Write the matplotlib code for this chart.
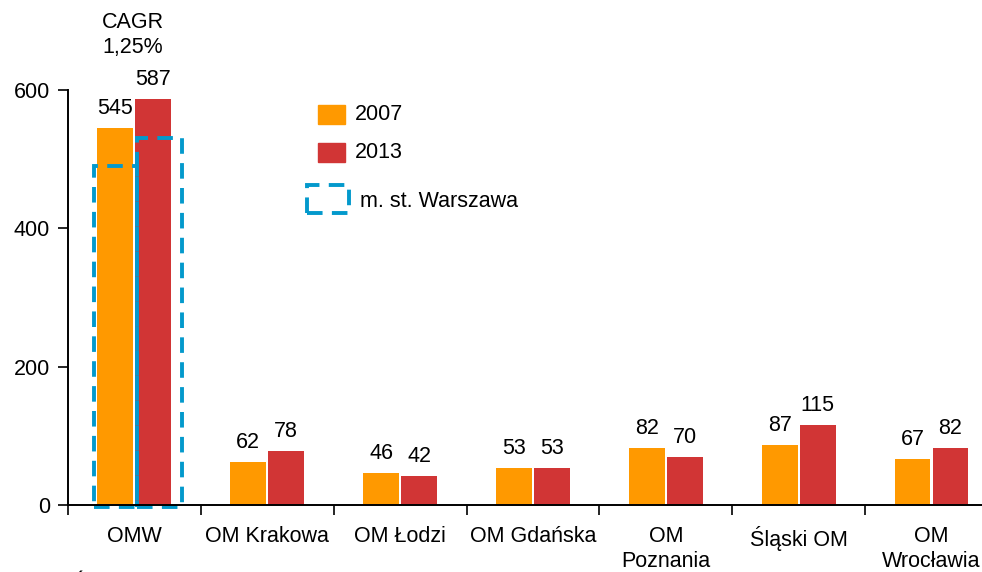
import matplotlib
matplotlib.use("Agg")
import matplotlib.pyplot as plt
from matplotlib.patches import Rectangle

plt.rcParams["font.family"] = ["Liberation Sans", "DejaVu Sans"]

# dane
categories = ["OMW", "OM Krakowa", "OM Łodzi", "OM Gdańska",
              "OM\nPoznania", "Śląski OM", "OM\nWrocławia"]
v2007 = [545, 62, 46, 53, 82, 87, 67]
v2013 = [587, 78, 42, 53, 70, 115, 82]
warszawa = [490, 530]  # m. st. Warszawa (2007, 2013)
yticks = [0, 200, 400, 600]

C07 = "#FF9900"
C13 = "#D13535"
CBL = "#0399CC"
W = 0.27
OFF = 0.143
FS = 15.5

W_PX, H_PX = 982, 572
fig = plt.figure(figsize=(W_PX / 100, H_PX / 100), dpi=100)
ax = fig.add_axes([68 / W_PX, 1 - 505 / H_PX, 1 - 68 / W_PX, (505 - 90) / H_PX])

x = list(range(len(categories)))
b1 = ax.bar([i - OFF for i in x], v2007, W, color=C07, zorder=2)
b2 = ax.bar([i + OFF for i in x], v2013, W, color=C13, zorder=2)

for bars, vals in ((b1, v2007), (b2, v2013)):
    for b, v in zip(bars, vals):
        ax.annotate(str(v), (b.get_x() + b.get_width() / 2, v),
                    textcoords="offset points", xytext=(0, 6.5),
                    ha="center", va="bottom", fontsize=FS, annotation_clip=False)

# ramki m. st. Warszawa
dash = (0, (4, 2.4))
for cx, w, top in ((-0.143, 0.33, warszawa[0]), (0.19, 0.34, warszawa[1])):
    ax.add_patch(Rectangle((cx - w / 2, -3), w, top + 3, fill=False,
                           edgecolor=CBL, lw=2.8, linestyle=dash,
                           zorder=3, clip_on=False))


def px(xp, yp):
    return xp / W_PX, 1 - yp / H_PX


fig.text(*px(133, 35), "CAGR\n1,25%", ha="center", va="center", fontsize=FS,
         linespacing=1.25)

ax.set_xlim(-0.49, 6.38)
ax.set_ylim(0, 600)
ax.set_yticks(yticks)
ax.set_xticks(x)
ax.set_xticklabels(categories, linespacing=1.28)
ax.set_xticks([i - 0.5 for i in x], minor=True)
ax.tick_params(axis="x", which="major", length=0, pad=15, labelsize=FS)
ax.tick_params(axis="x", which="minor", length=7, width=1.2, direction="out")
ax.tick_params(axis="y", length=7, width=1.2, direction="out", labelsize=FS, pad=6)
for s in ("top", "right"):
    ax.spines[s].set_visible(False)
for s in ("left", "bottom"):
    ax.spines[s].set_linewidth(1.4)
ax.spines["bottom"].set_zorder(4)

# legenda (ręcznie)
for y0, col, lab in ((105, C07, "2007"), (143, C13, "2013")):
    fig.patches.append(Rectangle(px(318, y0 + 19), 27 / W_PX, 19 / H_PX,
                                 color=col, transform=fig.transFigure))
    fig.text(*px(355, y0 + 10), lab, va="center", ha="left", fontsize=FS)
fig.patches.append(Rectangle(px(307, 213), 42 / W_PX, 28 / H_PX, fill=False,
                             edgecolor=CBL, lw=2.8, linestyle=dash,
                             transform=fig.transFigure))
fig.text(*px(360, 201), "m. st. Warszawa", va="center", ha="left", fontsize=FS)

fig.text(*px(72, 590), "Źródło", va="baseline", ha="left", fontsize=FS)

fig.savefig("out.png", dpi=100)
